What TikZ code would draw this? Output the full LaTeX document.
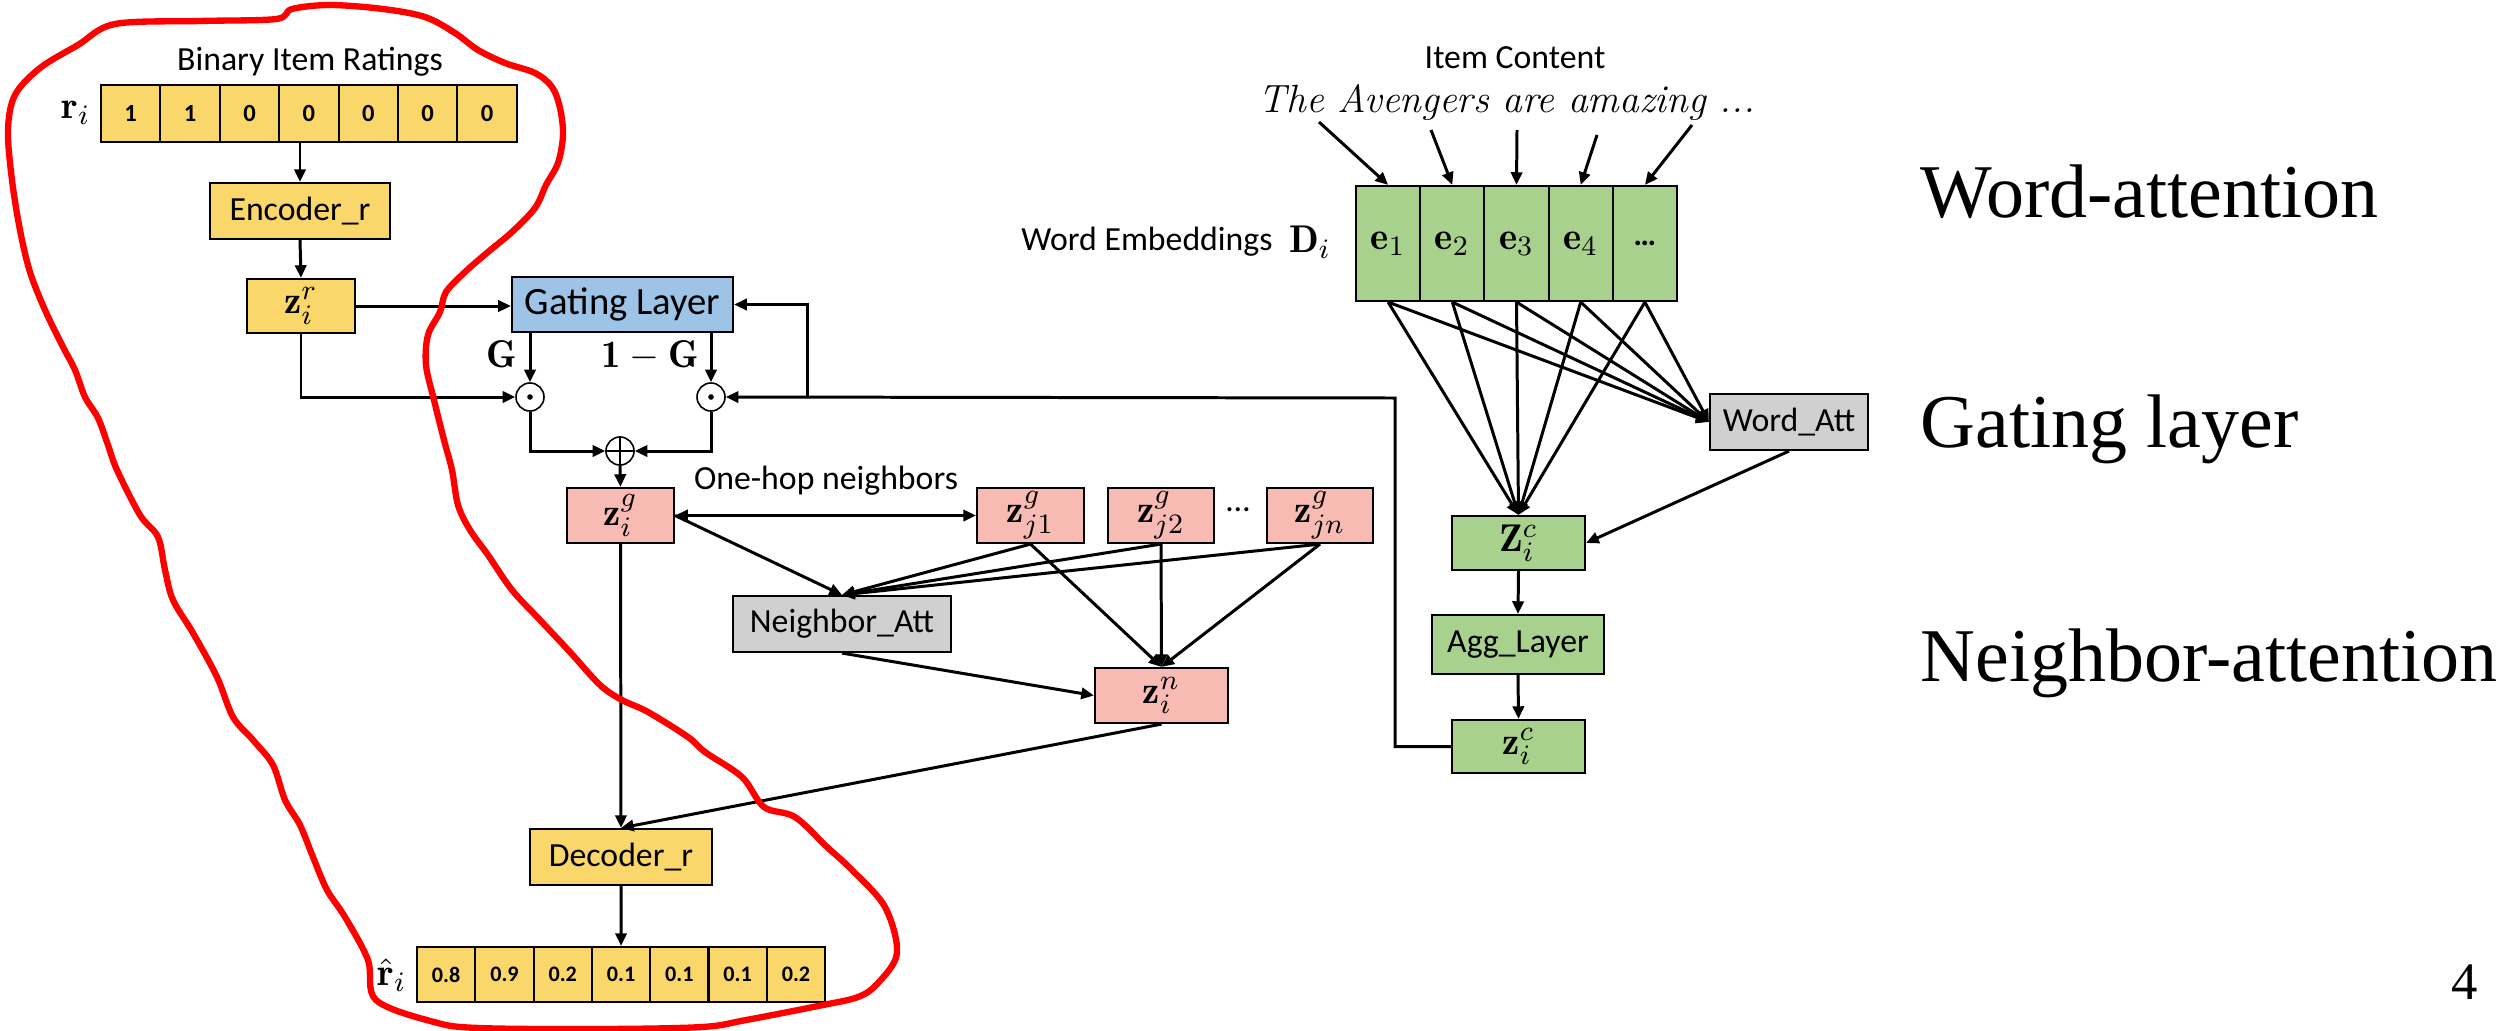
\documentclass[tikz,border=0pt]{standalone}
\usepackage{fontspec}
\newfontfamily\calib{Carlito}
\newfontfamily\timesf{Liberation Serif}
\usetikzlibrary{arrows.meta,calc}
\definecolor{cyel}{RGB}{249,215,106}
\definecolor{cblue}{RGB}{157,195,230}
\definecolor{cpink}{RGB}{248,187,180}
\definecolor{cgreen}{RGB}{169,209,142}
\definecolor{cgrey}{RGB}{208,208,208}
\newcommand\handfont{\itshape\fontsize{11.2}{13}\selectfont}
\tikzset{
  arr/.style={-{Triangle[length=3.6pt,width=3.2pt]}, line width=0.85pt},
  bx/.style 2 args={draw, line width=0.6pt, inner sep=0pt, minimum width=#1, minimum height=#2},
  lab/.style={font=\calib\fontsize{9.6}{11}\selectfont, inner sep=1pt},
  mth/.style={font=\fontsize{11}{13}\selectfont},
  opc/.style={circle, draw, line width=0.45pt, minimum size=0.28cm, inner sep=0pt},
  side/.style={font=\timesf\fontsize{21.6}{26}\selectfont, anchor=west, inner sep=0pt},
}
\begin{document}
\begin{tikzpicture}[x=0.01cm,y=-0.01cm]
\useasboundingbox (0,0) rectangle (2509,1030);

% ---------- left column ----------
\node[lab] (title) at (310,62) {Binary Item Ratings};
\foreach \v [count=\k] in {1,1,0,0,0,0,0}
  \node[bx={0.594cm}{0.57cm}, fill=cyel, font=\calib\bfseries\fontsize{7}{8}\selectfont] (r\k) at ({101+59.4*(\k-0.5)},113.5) {\v};
\node[mth] (rlab) at (76,113) {$\mathbf{r}_i$};
\node[bx={1.80cm}{0.56cm}, fill=cyel, lab] (enc) at (300,211) {Encoder\_r};
\node[bx={1.08cm}{0.54cm}, fill=cyel, mth] (zr) at (301,306) {$\mathbf{z}_i^r$};
\node[bx={2.21cm}{0.55cm}, fill=cblue, lab, font=\calib\fontsize{11}{13}\selectfont] (gate) at (622.5,304.5) {Gating Layer};

\node[opc] (odl) at (530,397) {};
\node[opc] (odr) at (711,397) {};
\node[opc] (opl) at (620,451) {};
\fill (odl) circle[radius=0.028cm];
\fill (odr) circle[radius=0.028cm];
\draw[line width=0.45pt] (opl.north) -- (opl.south) (opl.west) -- (opl.east);

\node[mth] (glab) at (502,354) {$\mathbf{G}$};
\node[mth] (omg) at (650,356) {$\mathbf{1}-\mathbf{G}$};

\node[bx={1.07cm}{0.55cm}, fill=cpink, mth] (zg) at (620.5,515.5) {$\mathbf{z}_i^g$};
\node[lab] (hop) at (826,481) {One-hop neighbors};
\node[bx={1.07cm}{0.55cm}, fill=cpink, mth] (zj1) at (1030.5,515.5) {$\mathbf{z}_{j1}^g$};
\node[bx={1.06cm}{0.55cm}, fill=cpink, mth] (zj2) at (1161,515.5) {$\mathbf{z}_{j2}^g$};
\node[lab] (jdots) at (1238,510) {\dots};
\node[bx={1.06cm}{0.55cm}, fill=cpink, mth] (zjn) at (1320,515.5) {$\mathbf{z}_{jn}^g$};
\node[bx={2.18cm}{0.56cm}, fill=cgrey, lab] (na) at (842,624) {Neighbor\_Att};
\node[bx={1.33cm}{0.55cm}, fill=cpink, mth] (zn) at (1161.5,695.5) {$\mathbf{z}_i^n$};
\node[bx={1.82cm}{0.56cm}, fill=cyel, lab] (dec) at (621,857) {Decoder\_r};
\foreach \v [count=\k] in {0.8,0.9,0.2,0.1,0.1,0.1,0.2}
  \node[bx={0.583cm}{0.55cm}, fill=cyel, font=\calib\bfseries\fontsize{6.3}{7.5}\selectfont] (o\k) at ({417+58.3*(\k-0.5)},974.5) {\v};
\node[mth] (rhlab) at (392,975) {$\hat{\mathbf{r}}_i$};

% ---------- right column nodes ----------
\node[lab] (ic) at (1515,58) {Item Content};
\node[font=\handfont] (av) at (1507,102) {The Avengers are amazing ...};
\node[lab] (we) at (1147,242) {Word Embeddings};
\node[mth] (dlab) at (1310,242) {$\mathbf{D}_i$};
\node[bx={0.642cm}{1.15cm}, fill=cgreen, mth] (e1) at (1388.1,243.5) {$\mathbf{e}_1$};
\node[bx={0.642cm}{1.15cm}, fill=cgreen, mth] (e2) at (1452.3,243.5) {$\mathbf{e}_2$};
\node[bx={0.642cm}{1.15cm}, fill=cgreen, mth] (e3) at (1516.5,243.5) {$\mathbf{e}_3$};
\node[bx={0.642cm}{1.15cm}, fill=cgreen, mth] (e4) at (1580.7,243.5) {$\mathbf{e}_4$};
\node[bx={0.642cm}{1.15cm}, fill=cgreen, font=\calib\bfseries\fontsize{9}{10}\selectfont] (e5) at (1644.9,243.5) {\dots};
\node[bx={1.58cm}{0.56cm}, fill=cgrey, lab] (watt) at (1789,422) {Word\_Att};
\node[bx={1.33cm}{0.54cm}, fill=cgreen, mth] (Zc) at (1518.5,543) {$\mathbf{Z}_i^c$};
\node[bx={1.72cm}{0.59cm}, fill=cgreen, lab] (agg) at (1518,644.5) {Agg\_Layer};
\node[bx={1.33cm}{0.53cm}, fill=cgreen, mth] (zcb) at (1518.5,746.5) {$\mathbf{z}_i^c$};

% connectors left
\draw[arr] (enc.north |- r4.south) -- (enc.north);
\draw[arr] (enc.south) -- (zr.north);
\draw[arr] (zr.east) -- (zr.east -| gate.west);
\draw[arr] (zr.south) |- (odl.west);
\draw[arr] (gate.south -| odl) -- (odl.north);
\draw[arr] (gate.south -| odr) -- (odr.north);
\draw[arr] (odl.south) |- (opl.west);
\draw[arr] (odr.south) |- (opl.east);
\draw[arr] (opl.south) -- (zg.north);
\coordinate (fb) at (1395,398);
\coordinate (br) at (807,398);
\draw[arr] (zcb.west) -| (fb) -- (odr.east);
\draw[arr] (br) |- (gate.east);
\draw[{Triangle[length=3.6pt,width=3.2pt]}-{Triangle[length=3.6pt,width=3.2pt]}, line width=0.85pt] (zg.east) -- (zj1.west);
\draw[arr] (zg.east) -- (na.north);
\foreach \n in {zj1,zj2,zjn} {
  \draw[arr] (\n.south) -- (na.north);
  \draw[arr] (\n.south) -- (zn.north);
}
\draw[arr] (na.south) -- (zn.west);
\draw[arr] (zg.south) -- (dec.north);
\draw[arr] (zn.south) -- (dec.north);
\draw[arr] (dec.south) -- (o4.north);

% connectors right
\coordinate (a1) at (1319,122);
\coordinate (a2) at (1431,130);
\coordinate (a3) at (1517,130);
\coordinate (a4) at (1597,135);
\coordinate (a5) at (1692,125);
\foreach \k in {1,...,5} {
  \draw[arr] (a\k) -- (e\k.north);
  \draw[arr] (e\k.south) -- (watt.west);
  \draw[arr] (e\k.south) -- (Zc.north);
}
\draw[arr] (watt.south) -- (Zc.east);
\draw[arr] (Zc.south) -- (agg.north);
\draw[arr] (agg.south) -- (zcb.north);

% ---------- side labels ----------
\node[side] (s1) at (1920,192) {Word-attention};
\node[side] (s2) at (1920,429) {Gating layer};
\node[side] (s3) at (1920,663) {Neighbor-attention};
\node[font=\timesf\fontsize{15}{18}\selectfont] (pg) at (2465,982) {4};

% ---------- red freehand loop ----------
\draw[red, line width=1.8pt, line join=round] plot[smooth cycle, tension=0.55] coordinates {
(115,24) (200,21) (276,19) (292,9) (330,5) (383,9) (425,17) (455,33) (478,50) (505,63) (535,73) (552,87) (560,108) (563,135) (558,163) (546,185) (535,208) (512,232) (488,252) (465,272) (446,292) (440,312) (428,335) (426,365) (434,400) (444,440) (452,470) (458,505) (470,530) (488,555) (512,590) (540,620) (570,652) (600,685) (622,700) (648,712) (688,737) (705,752) (742,777) (764,807) (795,817) (827,847) (852,870) (885,907) (897,953) (878,983) (858,997) (818,1006) (746,1020) (702,1027) (600,1029) (479,1028) (434,1022) (376,1000) (368,960) (345,917) (327,890) (313,857) (300,825) (285,800) (273,765) (253,740) (233,717) (217,677) (193,633) (173,600) (165,570) (158,537) (140,515) (117,470) (108,445) (98,418) (85,397) (75,370) (62,345) (45,310) (30,272) (20,230) (12,180) (8,130) (15,95) (40,68) (78,45)};
\end{tikzpicture}
\end{document}
